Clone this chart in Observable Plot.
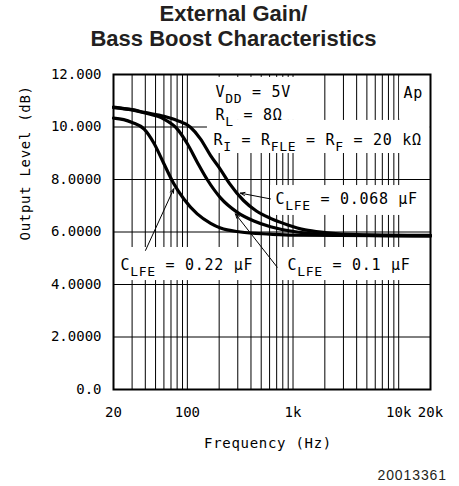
<!DOCTYPE html>
<html><head><meta charset="utf-8">
<script src="https://cdn.jsdelivr.net/npm/d3@7"></script>
<script src="https://cdn.jsdelivr.net/npm/@observablehq/plot@0.6"></script>
<style>
body{margin:0;background:#fff;width:459px;}
#title{height:55px;box-sizing:border-box;padding-top:1px;padding-left:8px;text-align:center;font:bold 22px/25px "Liberation Sans",Arial,sans-serif;color:#231f20;}
#caption{text-align:right;padding-right:12px;padding-top:2px;font:14px "Liberation Sans",Arial,sans-serif;letter-spacing:0.9px;color:#231f20;}
#chart svg g[aria-label="text"] text{letter-spacing:0.7px;}
</style></head><body>
<div id="title">External Gain/<br>Bass Boost Characteristics</div>
<div id="chart"></div>
<div id="caption">20013361</div>
<script>
// Series: C_LFE = 0.22 µF
const freq022 = [20, 25, 30, 39, 48, 60, 74, 93, 124, 166, 206, 318, 600, 1000, 20000];
const level022 = [10.34, 10.28, 10.17, 9.92, 9.4, 8.6, 7.86, 7.25, 6.69, 6.33, 6.15, 6.0, 5.92, 5.88, 5.85];
// Series: C_LFE = 0.1 µF
const freq01 = [20, 30, 39, 60, 80, 100, 124, 154, 206, 297, 426, 612, 1094, 2000, 20000];
const level01 = [10.74, 10.65, 10.54, 10.3, 9.93, 9.36, 8.66, 8.0, 7.3, 6.75, 6.42, 6.2, 6.0, 5.9, 5.85];
// Series: C_LFE = 0.068 µF
const freq0068 = [20, 30, 39, 60, 80, 107, 133, 166, 206, 250, 340, 450, 612, 880, 1300, 2000, 4000, 20000];
const level0068 = [10.76, 10.66, 10.56, 10.41, 10.25, 9.99, 9.55, 8.91, 8.38, 7.85, 7.2, 6.8, 6.52, 6.28, 6.08, 5.98, 5.9, 5.87];

// Axes
const xTicks = [20, 100, 1000, 10000, 20000];
const xTickLabels = ["20", "100", "1k", "10k", "20k"];
const yTicks = [0, 2, 4, 6, 8, 10, 12];
const yTickLabels = ["0.0", "2.0000", "4.0000", "6.0000", "8.0000", "10.000", "12.000"];
const gridFreq = [20, 30, 40, 50, 60, 70, 80, 90,
  100, 200, 300, 400, 500, 600, 700, 800, 900,
  1000, 2000, 3000, 4000, 5000, 6000, 7000, 8000, 9000,
  10000, 20000];

// Annotations (anchored in data units)
const noteText = ["V_{DD} = 5V", "R_{L} = 8Ω", "R_{I} = R_{FLE} = R_{F} = 20 kΩ", "Ap",
  "C_{LFE} = 0.068 µF", "C_{LFE} = 0.22 µF", "C_{LFE} = 0.1 µF"];
const noteFreq = [185, 185, 177, 11100, 682, 23.3, 886];
const noteLevel = [11.16, 10.25, 9.33, 11.12, 7.05, 4.57, 4.57];

// White label backgrounds (data units)
const boxF1 = [155, 155, 10200, 612, 21.2, 790];
const boxF2 = [1850, 19900, 19900, 18400, 480, 13500];
const boxL1 = [10.25, 8.99, 10.3, 6.63, 4.15, 4.15];
const boxL2 = [11.89, 10.25, 11.89, 7.77, 5.41, 5.41];

// Arrows: tail -> head
const arrowF1 = [612, 40.2, 708];
const arrowL1 = [7.26, 5.30, 4.66];
const arrowF2 = [318, 74.4, 285];
const arrowL2 = [7.48, 7.65, 6.69];

const seriesNames = ["0.22", "0.1", "0.068"];
const seriesFreq = [freq022, freq01, freq0068];
const seriesLevel = [level022, level01, level0068];
const rows = seriesNames.flatMap((c, k) => seriesFreq[k].map((f, i) => ({c, f, db: seriesLevel[k][i]})));
const notes = noteText.map((t, i) => ({t, f: noteFreq[i], db: noteLevel[i]}));
const boxes = boxF1.map((f1, i) => ({f1, f2: boxF2[i], l1: boxL1[i], l2: boxL2[i]}));
const arrows = arrowF1.map((f1, i) => ({f1, l1: arrowL1[i], f2: arrowF2[i], l2: arrowL2[i]}));

const plot = Plot.plot({
  width: 459, height: 410,
  marginTop: 19, marginLeft: 113, marginRight: 29, marginBottom: 76,
  style: {fontFamily: "'DejaVu Sans Mono', monospace", fontSize: "14px", color: "#000", background: "#fff"},
  x: {type: "log", domain: [20, 20000]},
  y: {domain: [0, 12]},
  marks: [
    Plot.ruleX(gridFreq, {stroke: "#000", strokeWidth: 1}),
    Plot.ruleY(yTicks, {stroke: "#000", strokeWidth: 1}),
    Plot.rect(boxes, {x1: "f1", x2: "f2", y1: "l1", y2: "l2", fill: "#fff"}),
    Plot.frame({stroke: "#000", strokeWidth: 2}),
    Plot.line(rows, {x: "f", y: "db", z: "c", stroke: "#000", strokeWidth: 3.2, curve: "monotone-x"}),
    Plot.arrow(arrows, {x1: "f1", y1: "l1", x2: "f2", y2: "l2", stroke: "#000", strokeWidth: 1, headLength: 7, headAngle: 40}),
    Plot.text(notes, {x: "f", y: "db", text: "t", textAnchor: "start", lineAnchor: "bottom", fontSize: 15, fill: "#000"}),
    Plot.axisX({ticks: xTicks, tickFormat: d => xTickLabels[xTicks.indexOf(d)], tickSize: 0, tickPadding: 18, label: null}),
    Plot.axisY({ticks: yTicks, tickFormat: d => yTickLabels[yTicks.indexOf(d)], tickSize: 0, tickPadding: 12, label: null}),
    Plot.text(["Frequency (Hz)"], {text: d => d, frameAnchor: "bottom", dx: -4, dy: 58, lineAnchor: "bottom", fontSize: 14}),
    Plot.text(["Output Level (dB)"], {text: d => d, frameAnchor: "left", rotate: -90, dx: -88, dy: 8.5, fontSize: 14})
  ]
});

// Turn "_{...}" markup into real subscript tspans
plot.querySelectorAll("text").forEach(t => {
  const s = t.textContent;
  if (!s.includes("_{")) return;
  t.textContent = "";
  const parts = s.split(/(_\{[^}]*\})/);
  let shifted = false;
  parts.forEach(p => {
    if (!p) return;
    const ts = document.createElementNS("http://www.w3.org/2000/svg", "tspan");
    if (p.startsWith("_{")) {
      ts.textContent = p.slice(2, -1);
      ts.setAttribute("font-size", 13);
      if (!shifted) { ts.setAttribute("dy", 6); shifted = true; }
    } else {
      ts.textContent = p;
      if (shifted) { ts.setAttribute("dy", -6); shifted = false; }
    }
    t.appendChild(ts);
  });
});

document.getElementById("chart").appendChild(plot);
</script>
</body></html>
